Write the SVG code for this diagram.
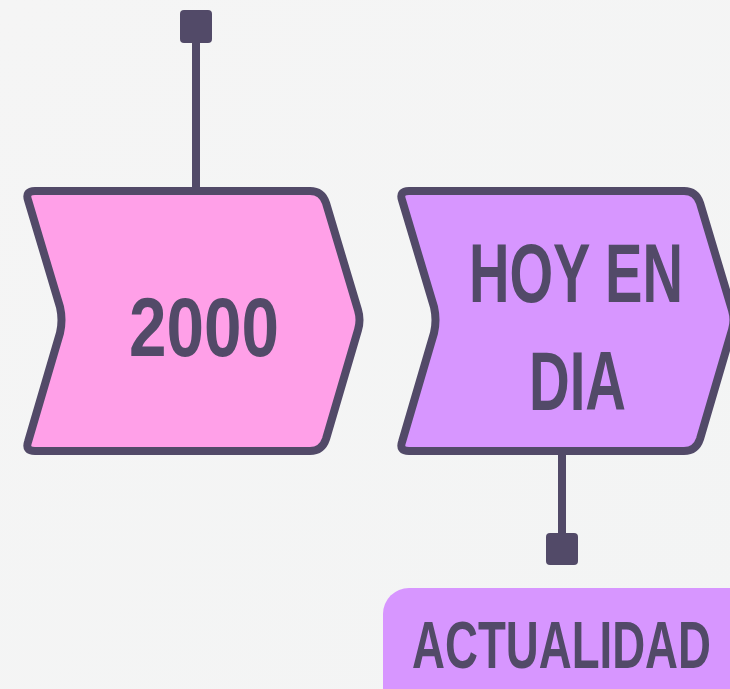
<svg xmlns="http://www.w3.org/2000/svg" width="730" height="689" viewBox="0 0 730 689">
  <defs>
    <linearGradient id="bg" x1="0" y1="0" x2="1" y2="1">
      <stop offset="0" stop-color="#f5f5f5"/>
      <stop offset="1" stop-color="#f3f4f4"/>
    </linearGradient>
    <path id="chev" d="M35,191 L310,191 Q322,191 326,203 L358,310 Q361,320 358,330 L326,439 Q322,451 310,451 L35,451 Q25,451 28,442 L60,333 Q63,320 60,307 L28,200 Q25,191 35,191 Z"/>
  </defs>
  <style>
    .shape { stroke: #524a68; stroke-width: 8; stroke-linejoin: round; }
    .pink { fill: #ffa0e8; }
    .purple { fill: #d796ff; }
    .lbl { font-family: "Liberation Sans", Arial, sans-serif; font-weight: bold; fill: #524a68; text-anchor: middle; }
    .conn { stroke: #524a68; stroke-width: 8; }
    .knob { fill: #524a68; }
  </style>
  <rect width="730" height="689" fill="url(#bg)"/>
  <g id="connectors">
    <line class="conn" x1="196" y1="40" x2="196" y2="190"/>
    <rect class="knob" x="180" y="10" width="32" height="33" rx="4"/>
    <line class="conn" x1="562" y1="452" x2="562" y2="536"/>
    <rect class="knob" x="546" y="533" width="32" height="32" rx="4"/>
  </g>
  <g id="node-2000">
    <use href="#chev" class="shape pink"/>
    <text class="lbl" x="204" y="356" font-size="84" textLength="150" lengthAdjust="spacingAndGlyphs">2000</text>
  </g>
  <g id="node-hoy">
    <use href="#chev" class="shape purple" transform="translate(374,0)"/>
    <text class="lbl" x="576" y="302" font-size="84" textLength="214" lengthAdjust="spacingAndGlyphs">HOY EN</text>
    <text class="lbl" x="577.5" y="410" font-size="84" textLength="97" lengthAdjust="spacingAndGlyphs">DIA</text>
  </g>
  <g id="node-actualidad">
    <rect class="purple" x="383" y="588" width="380" height="140" rx="26"/>
    <text class="lbl" x="561.5" y="668" font-size="67" textLength="299" lengthAdjust="spacingAndGlyphs">ACTUALIDAD</text>
  </g>
</svg>
